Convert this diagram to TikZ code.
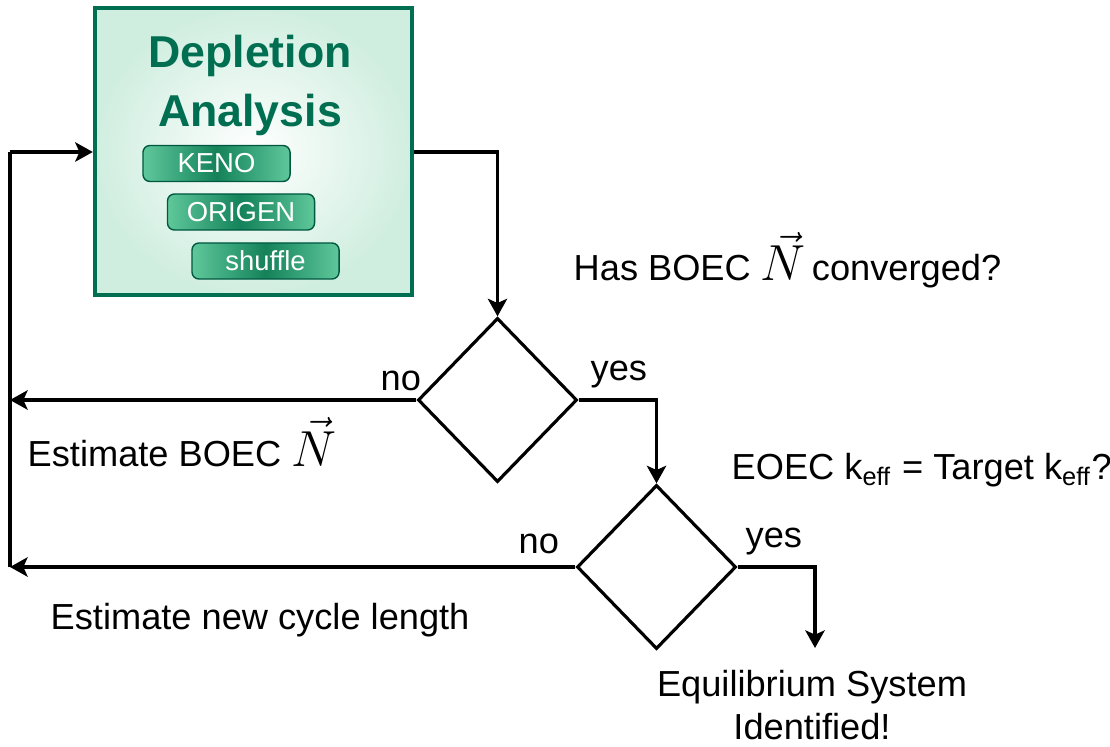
\documentclass[tikz,border=0pt]{standalone}
\usepackage{fontspec}
\setmainfont{Liberation Sans}
\usetikzlibrary{arrows.meta,shapes.geometric}
\definecolor{deplgreen}{RGB}{0,110,80}
\definecolor{boxpale}{RGB}{208,238,224}
\definecolor{pilldark}{RGB}{20,130,90}
\definecolor{pilllight}{RGB}{95,200,155}
\tikzset{
  flow/.style={line width=0.9pt,-{Stealth[length=5pt,width=5.5pt,inset=1.2pt]}},
  line/.style={line width=0.9pt},
  decide/.style={diamond,draw,line width=0.9pt,minimum width=1.59cm,minimum height=1.64cm,inner sep=0pt},
  pill/.style={rounded corners=2pt,draw=deplgreen!80!black,line width=0.4pt,
    left color=pilllight,right color=pilllight,middle color=pilldark,
    text=white,font=\fontsize{7.8}{9}\selectfont,minimum width=1.47cm,minimum height=0.36cm,inner sep=0pt},
  lbl/.style={font=\fontsize{10.3}{12}\selectfont,inner sep=0pt}
}
\begin{document}
\begin{tikzpicture}[x=0.01cm,y=-0.01cm]
  \useasboundingbox (0,0) rectangle (1110,746);
  % depletion box
  \node[draw=deplgreen,line width=1.2pt,inner color=white,outer color=boxpale,
    minimum width=3.17cm,minimum height=2.87cm] (depl) at (253.5,151.5) {};
  \node[text=deplgreen,font=\bfseries\fontsize{12.7}{17}\selectfont,align=center,inner sep=0pt,anchor=base]
    (title) at (250,127) {Depletion\\Analysis};
  \node[pill] (keno) at (216.5,163.5) {KENO};
  \node[pill] (origen) at (241,212) {ORIGEN};
  \node[pill] (shuf) at (265.5,261) {shuffle};
  % decisions
  \node[decide] (conv) at (497.5,400) {};
  \node[decide] (keff) at (656.5,567) {};
  \coordinate (back) at (10,152);
  \coordinate (nobot) at (10,567);
  \coordinate (done) at (815,648);
  % connectors
  \draw[flow] (depl.east |- 0,152) -| (conv.north);
  \draw[flow] (conv.east) -| (keff.north);
  \draw[flow] (conv.west) -- (conv.west -| back);
  \draw[flow] (keff.west) -- (nobot);
  \draw[line] (nobot) -- (back);
  \draw[flow] (back) -- (depl.west |- back);
  \draw[flow] (keff.east) -| (done);
  % labels
  \node[lbl,anchor=base west] (q1) at (573,281) {Has BOEC {\Large$\vec{N}$}\,converged?};
  \node[lbl,anchor=base west] (e1) at (27,466) {Estimate BOEC {\Large$\vec{N}$}};
  \node[lbl,anchor=base west] (q2) at (731,479) {EOEC k\textsubscript{eff} = Target k\textsubscript{eff}?};
  \node[lbl,anchor=base west] (e2) at (50,629) {Estimate new cycle length};
  \node[lbl,anchor=base,align=center] (eq) at (812,739) {Equilibrium System\\Identified!};
  \node[lbl,anchor=base west] (no1) at (380,390) {no};
  \node[lbl,anchor=base west] (yes1) at (590,380) {yes};
  \node[lbl,anchor=base west] (no2) at (518,553) {no};
  \node[lbl,anchor=base west] (yes2) at (745,547) {yes};
\end{tikzpicture}
\end{document}
